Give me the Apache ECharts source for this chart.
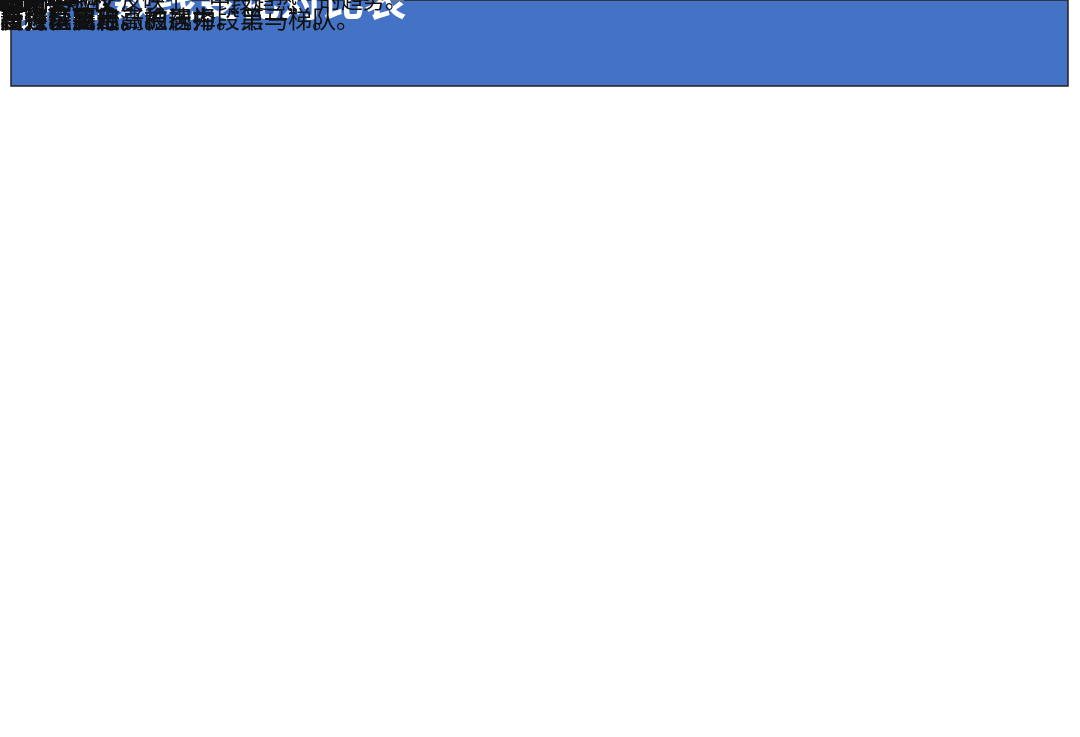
<!DOCTYPE html>
<html>
<head>
<meta charset="utf-8">
<script src="https://cdn.jsdelivr.net/npm/echarts@6/dist/echarts.min.js"></script>
<style>html,body{margin:0;background:#fff}#main{width:1080px;height:737px}</style>
</head>
<body>
<div id="main"></div>
<script>
// 表格数据
var title = '2025年部分公办高中录取分数线变化对比表';
var subtitle = '此表展示了文中提到的、近年来热度攀升的学校数据，反映了“中段趋热”的趋势。';
var headers = ['学校', '2025年\n统招线', '2024年\n统招线', '两年分数\n涨幅', '热度与特点'];
var schools = ['市教科院附中', '成都二中', '北二外成都附中', '青羊教科院附属实验校', '树德协进中学', '高新实验中学'];
var score2025 = [630, 626, 610, 595, 589, 577];
var score2024 = [616, 606, 593, 578, 575, 564];
var notes = [
    '市教科院直属，教研资源强，竞赛\n与强基突出，稳居中段第一梯队。',
    '市直属百年老校，位次大幅上升，\n新校区启用，被视为“黑马”。',
    '数学与外语特色鲜明，以“中低分\n高进”著称。',
    '背靠区教科院，自“民转公”后热\n度持续飙升。',
    '享有“树德系”管理资源的老牌强\n校，稳步上涨。',
    '高新区公办校，学风扎实，被认为\n是性价比较高的选择。'
];

var FONT = 'Noto Sans CJK SC';
var BLUE = '#4472C4';
var left = 11, right = 1068, top = 11;
var colX = [11, 303, 417, 531, 661, 1068];
var titleH = 86, subH = 44, headH = 77, rowH = 84.3;

function rect(x, y, w, h, fill) {
    return {type: 'rect', shape: {x: x, y: y, width: w, height: h},
        style: {fill: fill, stroke: '#222', lineWidth: 1.5}};
}
function text(x, y, s, size, bold, color, align, lh) {
    return {type: 'text', x: x, y: y, style: {
        text: s, fontFamily: FONT, fontSize: size, fontWeight: bold ? 'bold' : 'normal',
        fill: color || '#111', align: align || 'center', verticalAlign: 'middle', lineHeight: lh || size * 1.3
    }};
}

// 行：-3 标题，-2 说明，-1 表头，0.. 数据
var rowIdx = [-3, -2, -1].concat(schools.map(function (s, i) { return i; }));

function renderItem(params, api) {
    var r = api.value(0);
    var kids = [];
    var y0 = top + titleH + subH + headH;
    if (r === -3) {
        kids.push(rect(left, top, right - left, titleH, BLUE));
        kids.push(text((left + right) / 2, top + titleH / 2, title, 42, true, '#fff'));
    } else if (r === -2) {
        var y = top + titleH;
        kids.push(rect(left, y, right - left, subH, '#fff'));
        kids.push(text((left + right) / 2, y + subH / 2, subtitle, 22, false));
    } else if (r === -1) {
        var hy = top + titleH + subH;
        headers.forEach(function (h, i) {
            kids.push(rect(colX[i], hy, colX[i + 1] - colX[i], headH, BLUE));
            kids.push(text((colX[i] + colX[i + 1]) / 2, hy + headH / 2, h, 23, true, '#fff', 'center', 36));
        });
    } else {
        var ry = y0 + r * rowH, cy = ry + rowH / 2;
        var cells = [schools[r], score2025[r] + '分', score2024[r] + '分',
            '+' + (score2025[r] - score2024[r]) + '分'];
        for (var i = 0; i < 5; i++) kids.push(rect(colX[i], ry, colX[i + 1] - colX[i], rowH, '#fff'));
        cells.forEach(function (c, i) {
            kids.push(text((colX[i] + colX[i + 1]) / 2, cy, c, i === 3 ? 24 : 23, i === 0 || i === 3));
        });
        kids.push(text(colX[4] + 7, cy, notes[r], 24, false, '#111', 'left', 37));
    }
    return {type: 'group', children: kids};
}

var chart = echarts.init(document.getElementById('main'));
chart.setOption({
    animation: false,
    series: [{
        type: 'custom',
        coordinateSystem: 'none',
        data: rowIdx.map(function (r) { return [r]; }),
        renderItem: renderItem
    }]
});
</script>
</body>
</html>
